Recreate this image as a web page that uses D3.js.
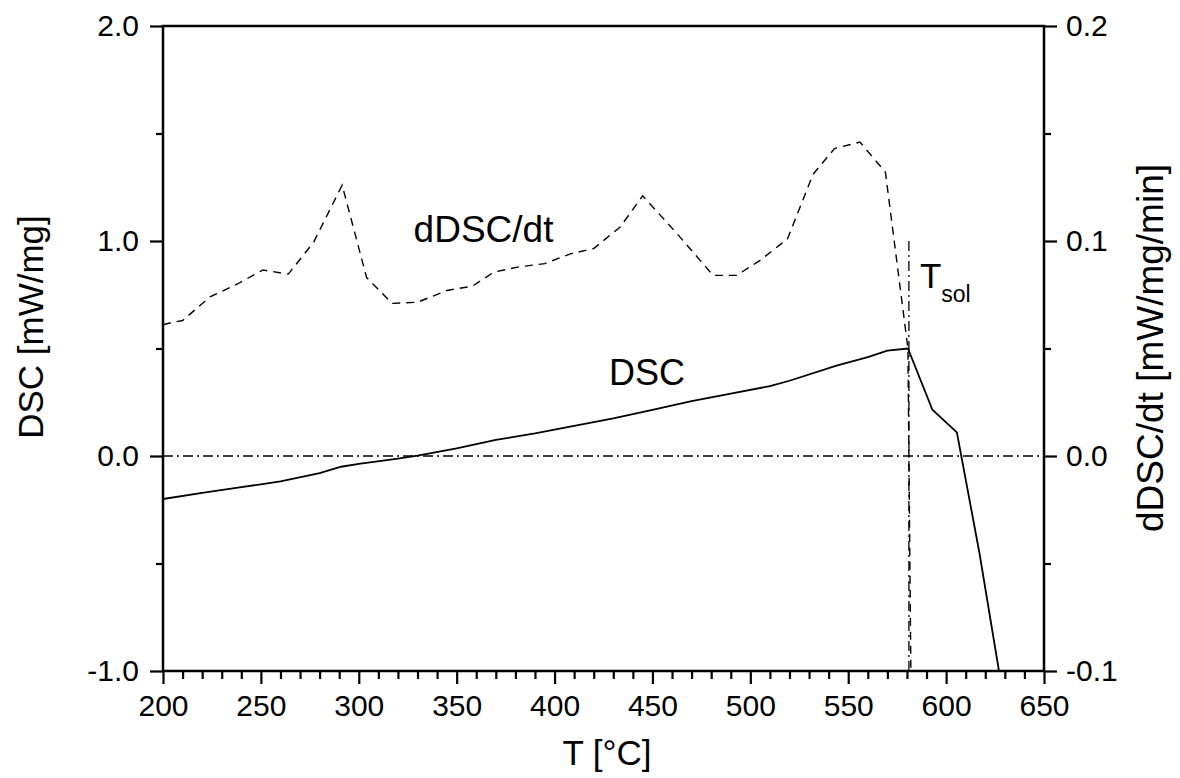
<!DOCTYPE html>
<html>
<head>
<meta charset="utf-8">
<script src="https://cdn.jsdelivr.net/npm/d3@7/dist/d3.min.js"></script>
<style>
  body { margin: 0; background: #fff; }
  svg { font-family: "Liberation Sans", Arial, sans-serif; }
</style>
</head>
<body>
<div id="chart"></div>
<script>
// temperature ticks
const xMajor = [200, 250, 300, 350, 400, 450, 500, 550, 600, 650];
const yLeftMajor = [-1.0, 0.0, 1.0, 2.0];
const yRightMajor = [-0.1, 0.0, 0.1, 0.2];

// DSC curve [mW/mg]
const dscT = [200, 220, 240, 260, 280, 291, 300, 320, 330, 350, 370, 390, 410, 430, 450, 470, 490, 510, 520, 544, 560, 570, 580.5, 593, 605.5, 617, 627];
const dscVal = [-0.20, -0.172, -0.145, -0.118, -0.08, -0.05, -0.037, -0.012, 0.002, 0.035, 0.075, 0.105, 0.14, 0.175, 0.215, 0.255, 0.29, 0.325, 0.35, 0.42, 0.46, 0.49, 0.50, 0.215, 0.11, -0.45, -1.0];

// dDSC/dt curve [mW/mg/min]
const ddscT = [200, 204, 210, 224, 238, 251, 264, 277, 291.5, 304, 317, 330, 345, 358, 369, 382, 395, 408, 420, 433.5, 445, 462.5, 481, 493, 505, 519, 532, 543, 556, 569, 580.5, 582];
const ddscVal = [0.061, 0.062, 0.063, 0.074, 0.080, 0.0865, 0.0846, 0.0995, 0.126, 0.083, 0.071, 0.0715, 0.077, 0.079, 0.0855, 0.088, 0.0895, 0.094, 0.0965, 0.1065, 0.121, 0.1035, 0.084, 0.084, 0.091, 0.101, 0.131, 0.143, 0.146, 0.132, 0.050, -0.100];

const tSol = 581;

const width = 1180, height = 778;
const margin = { left: 163, top: 26, right: 136, bottom: 107 };
const w = width - margin.left - margin.right;
const h = height - margin.top - margin.bottom;

const svg = d3.select("#chart").append("svg")
    .attr("width", width)
    .attr("height", height);

const g = svg.append("g")
    .attr("transform", `translate(${margin.left},${margin.top})`);

const x = d3.scaleLinear().domain([200, 650]).range([0, w]);
const yL = d3.scaleLinear().domain([-1, 2]).range([h, 0]);
const yR = d3.scaleLinear().domain([-0.1, 0.2]).range([h, 0]);

const fmt1 = d => d3.format(".1f")(d).replace("\u2212", "-");

g.append("clipPath").attr("id", "clip")
    .append("rect").attr("width", w).attr("height", h);

// minor ticks
const xMinor = d3.range(200, 651, 10).filter(v => v % 50 !== 0);
g.append("g").attr("transform", `translate(0,${h})`)
    .call(d3.axisBottom(x).tickValues(xMinor).tickSize(8).tickFormat(""));
g.append("g")
    .call(d3.axisLeft(yL).tickValues([-0.5, 0.5, 1.5]).tickSize(7).tickFormat(""));
g.append("g").attr("transform", `translate(${w},0)`)
    .call(d3.axisRight(yR).tickValues([-0.05, 0.05, 0.15]).tickSize(7).tickFormat(""));

// major ticks
g.append("g").attr("transform", `translate(0,${h})`)
    .call(d3.axisBottom(x).tickValues(xMajor).tickSize(13).tickPadding(11).tickFormat(d3.format("d")));
g.append("g")
    .call(d3.axisLeft(yL).tickValues(yLeftMajor).tickSize(13).tickPadding(11).tickFormat(fmt1));
g.append("g").attr("transform", `translate(${w},0)`)
    .call(d3.axisRight(yR).tickValues(yRightMajor).tickSize(13).tickPadding(9).tickFormat(fmt1));

g.selectAll(".domain").remove();
g.selectAll(".tick line").attr("stroke", "#000").attr("stroke-width", 2.2);
g.selectAll(".tick text")
    .attr("font-family", "Liberation Sans, Arial, sans-serif")
    .attr("font-size", 30)
    .attr("fill", "#000");

// frame
g.append("rect")
    .attr("width", w).attr("height", h)
    .attr("fill", "none").attr("stroke", "#000").attr("stroke-width", 2.5);

// zero line
g.append("line")
    .attr("x1", 0).attr("x2", w)
    .attr("y1", yL(0)).attr("y2", yL(0))
    .attr("stroke", "#000").attr("stroke-width", 1.3)
    .attr("stroke-dasharray", "10,4,2,4");

// solidus marker
g.append("line")
    .attr("x1", x(tSol)).attr("x2", x(tSol))
    .attr("y1", yL(1.0)).attr("y2", yL(-1.0))
    .attr("stroke", "#000").attr("stroke-width", 1.3)
    .attr("stroke-dasharray", "10,4,2,4");

const plot = g.append("g").attr("clip-path", "url(#clip)");

const dscLine = d3.line().x(d => x(d[0])).y(d => yL(d[1]));
plot.append("path")
    .datum(dscT.map((t, i) => [t, dscVal[i]]))
    .attr("d", dscLine)
    .attr("fill", "none").attr("stroke", "#000").attr("stroke-width", 1.8);

const ddscLine = d3.line().x(d => x(d[0])).y(d => yR(d[1]));
plot.append("path")
    .datum(ddscT.map((t, i) => [t, ddscVal[i]]))
    .attr("d", ddscLine)
    .attr("fill", "none").attr("stroke", "#000").attr("stroke-width", 1.4)
    .attr("stroke-dasharray", "8,6");

// curve labels
g.append("text").attr("x", x(328)).attr("y", yL(0.995))
    .attr("font-size", 37).text("dDSC/dt");
g.append("text").attr("x", x(427.8)).attr("y", yL(0.33))
    .attr("font-size", 36).text("DSC");
const ts = g.append("text").attr("x", x(586.6)).attr("y", yL(0.78))
    .attr("font-size", 35).text("T");
ts.append("tspan").attr("dy", 14).attr("font-size", 23).text("sol");

// axis titles
svg.append("text")
    .attr("x", 607).attr("y", 765)
    .attr("text-anchor", "middle").attr("font-size", 35)
    .text("T [°C]");
svg.append("text")
    .attr("transform", `translate(43,327) rotate(-90)`)
    .attr("text-anchor", "middle").attr("font-size", 35)
    .text("DSC [mW/mg]");
svg.append("text")
    .attr("transform", `translate(1163,348) rotate(-90)`)
    .attr("text-anchor", "middle").attr("font-size", 37)
    .text("dDSC/dt [mW/mg/min]");
</script>
</body>
</html>
